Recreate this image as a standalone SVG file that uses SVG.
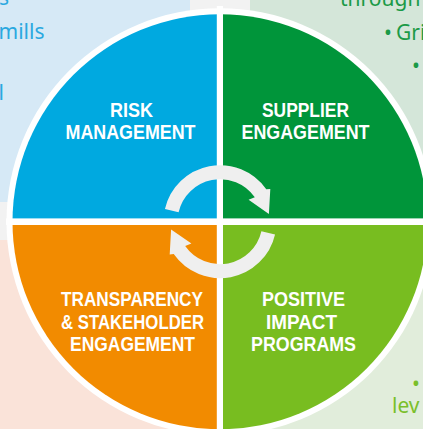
<svg xmlns="http://www.w3.org/2000/svg" width="423" height="429" viewBox="0 0 423 429">
<style>
.bgt{font-family:"Noto Sans","Open Sans",sans-serif;font-size:21px}
.lbl{font-family:"Liberation Sans",Arial,sans-serif;font-weight:bold;font-size:19.5px;fill:#fff;text-anchor:middle}
.arrow{fill:#efefef}
</style>
<defs>
<path id="arw" d="M164.95 208.99 A56.5 56.5 0 0 1 266.28 189.29 L270.3 189.0 L268.9 214.0 L248.6 199.8 L254.81 197.32 A42.5 42.5 0 0 0 178.59 212.14 Z"/>
</defs>
<g id="background">
<rect x="0" y="0" width="423" height="429" fill="#f2f2f2"/>
<rect x="0" y="0" width="190" height="202" fill="#d6e9f6"/>
<rect x="250" y="0" width="173" height="202" fill="#d4e6d9"/>
<rect x="0" y="240" width="222" height="189" fill="#fae3d9"/>
<rect x="222" y="240" width="201" height="189" fill="#e1eddb"/>
<text class="bgt" x="-1" y="5" fill="#2aa8e0">s</text>
<text class="bgt" x="-1.5" y="39" fill="#2aa8e0">mills</text>
<text class="bgt" x="-1.6" y="100" fill="#2aa8e0">l</text>
<text class="bgt" x="340" y="6" fill="#1b9a47">through</text>
<text class="bgt" x="384" y="40" fill="#1b9a47">•</text>
<text class="bgt" x="396" y="40" fill="#1b9a47">Gri</text>
<text class="bgt" x="412" y="72.5" fill="#1b9a47">•</text>
<text class="bgt" x="412" y="390.5" fill="#7abf2a">•</text>
<text class="bgt" x="392" y="413" fill="#7abf2a">lev</text>
</g>
<circle cx="220" cy="221.7" r="213.5" fill="#fff"/>
<g id="risk-management">
<path d="M220 221.7 L12.5 221.7 A207.5 207.5 0 0 1 220 14.2 Z" fill="#00a9e0"/>
<text class="lbl" x="131.5" y="116.5" textLength="43" lengthAdjust="spacingAndGlyphs">RISK</text>
<text class="lbl" x="130.5" y="138.5" textLength="130" lengthAdjust="spacingAndGlyphs">MANAGEMENT</text>
</g>
<g id="supplier-engagement">
<path d="M220 221.7 L220 14.2 A207.5 207.5 0 0 1 427.5 221.7 Z" fill="#00953a"/>
<text class="lbl" x="305.5" y="116.5" textLength="87" lengthAdjust="spacingAndGlyphs">SUPPLIER</text>
<text class="lbl" x="305.5" y="138.5" textLength="128" lengthAdjust="spacingAndGlyphs">ENGAGEMENT</text>
</g>
<g id="positive-impact-programs">
<path d="M220 221.7 L427.5 221.7 A207.5 207.5 0 0 1 220 429.2 Z" fill="#78bd20"/>
<text class="lbl" x="303.5" y="306" textLength="83" lengthAdjust="spacingAndGlyphs">POSITIVE</text>
<text class="lbl" x="301.5" y="328.5" textLength="71" lengthAdjust="spacingAndGlyphs">IMPACT</text>
<text class="lbl" x="303.5" y="351" textLength="105" lengthAdjust="spacingAndGlyphs">PROGRAMS</text>
</g>
<g id="transparency-stakeholder-engagement">
<path d="M220 221.7 L220 429.2 A207.5 207.5 0 0 1 12.5 221.7 Z" fill="#f28b00"/>
<text class="lbl" x="132" y="306" textLength="142" lengthAdjust="spacingAndGlyphs">TRANSPARENCY</text>
<text class="lbl" x="132.5" y="328.5" textLength="143" lengthAdjust="spacingAndGlyphs">&amp; STAKEHOLDER</text>
<text class="lbl" x="132.5" y="351" textLength="125" lengthAdjust="spacingAndGlyphs">ENGAGEMENT</text>
</g>
<g id="dividers" fill="#fff">
<rect x="216.8" y="6" width="6.2" height="430"/>
<rect x="6" y="218.4" width="430" height="6.6"/>
</g>
<g id="connectors">
<use href="#arw" class="arrow"/>
<use href="#arw" class="arrow" transform="rotate(180 220 221.7)"/>
</g>
</svg>
